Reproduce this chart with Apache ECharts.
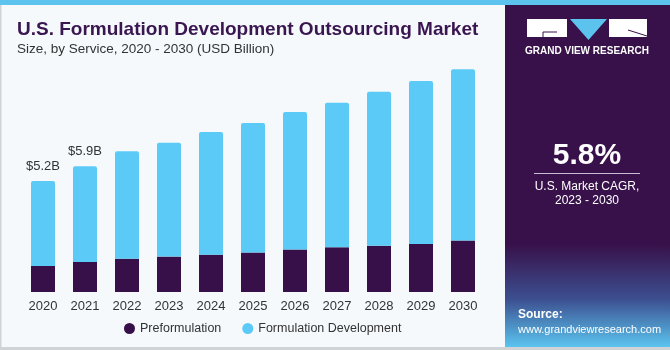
<!DOCTYPE html>
<html>
<head>
<meta charset="utf-8">
<script src="https://cdn.jsdelivr.net/npm/echarts@6/dist/echarts.min.js"></script>
<style>
  html, body { margin: 0; padding: 0; background: #f5f9fc; }
  #chart { width: 670px; height: 350px; }
</style>
</head>
<body>
<div id="chart"></div>
<script>
// data (USD billion)
const years = ['2020', '2021', '2022', '2023', '2024', '2025', '2026', '2027', '2028', '2029', '2030']
const preformulation = [1.22, 1.41, 1.56, 1.66, 1.75, 1.85, 1.99, 2.10, 2.17, 2.25, 2.41]
const formulationDev = [3.98, 4.49, 5.04, 5.34, 5.75, 6.07, 6.45, 6.77, 7.22, 7.64, 8.03]
const totalLabels = ['$5.2B', '$5.9B', '', '', '', '', '', '', '', '', '']

const DARK = '#381049'
const LIGHT = '#5ccaf6'
const FONT = '"Liberation Sans", Arial, sans-serif'

const chart = echarts.init(document.getElementById('chart'))

chart.setOption({
	backgroundColor: '#f5f9fc',
	animation: false,
	textStyle: { fontFamily: FONT },
	grid: { left: 22, top: 36, width: 462, height: 256, containLabel: false },
	legend: {
		top: 317,
		left: 119,
		itemWidth: 11,
		itemHeight: 11,
		itemGap: 21,
		icon: 'circle',
		textStyle: { fontSize: 12.5, color: '#333', fontFamily: FONT },
		data: ['Preformulation', 'Formulation Development']
	},
	xAxis: {
		type: 'category',
		data: years,
		axisLine: { show: false },
		axisTick: { show: false },
		axisLabel: { fontSize: 13, color: '#333', margin: 8 }
	},
	yAxis: {
		type: 'value',
		min: 0,
		max: 12,
		show: false,
		splitLine: { show: false }
	},
	series: [
		{
			name: 'Preformulation',
			type: 'bar',
			stack: 'total',
			barWidth: 24,
			itemStyle: { color: DARK },
			data: preformulation
		},
		{
			name: 'Formulation Development',
			type: 'bar',
			stack: 'total',
			barWidth: 24,
			itemStyle: { color: LIGHT, borderRadius: [2, 2, 0, 0] },
			label: {
				show: true,
				position: 'top',
				distance: 8,
				fontSize: 13,
				color: '#333',
				formatter: p => totalLabels[p.dataIndex]
			},
			data: formulationDev
		}
	],
	graphic: [
		// top stripe and frame
		{ type: 'rect', left: 0, top: 0, shape: { width: 670, height: 5 }, style: { fill: '#5bc3ee' }, silent: true },
		{ type: 'rect', left: 0, top: 347, shape: { width: 670, height: 3 }, style: { fill: '#cfd3d6' }, silent: true },
		{ type: 'rect', left: 0, top: 5, shape: { width: 1.5, height: 342 }, style: { fill: '#cfd3d6' }, silent: true },
		// titles
		{
			type: 'text', left: 17, top: 20,
			style: { text: 'U.S. Formulation Development Outsourcing Market', fill: '#3a1650', font: 'bold 19px ' + FONT }
		},
		{
			type: 'text', left: 17, top: 42,
			style: { text: 'Size, by Service, 2020 - 2030 (USD Billion)', fill: '#333', font: '13.5px ' + FONT }
		},
		// right panel
		{
			type: 'rect', left: 505, top: 5,
			shape: { width: 165, height: 342 },
			style: {
				fill: new echarts.graphic.LinearGradient(0, 0, 0, 1, [
					{ offset: 0, color: '#38114a' },
					{ offset: 0.7, color: '#38114a' },
					{ offset: 0.86, color: '#3c4f90' },
					{ offset: 1, color: '#5bc4ef' }
				])
			},
			silent: true
		},
		// logo
		{ type: 'rect', left: 527, top: 19, shape: { width: 40, height: 18 }, style: { fill: '#fff' } },
		{ type: 'polyline', shape: { points: [[543, 37], [543, 32], [557, 32]] }, style: { stroke: DARK, lineWidth: 1, fill: null } },
		{ type: 'polygon', shape: { points: [[570, 19], [607, 19], [588.5, 40]] }, style: { fill: '#5bc3ee' } },
		{ type: 'rect', left: 609, top: 19, shape: { width: 38, height: 18 }, style: { fill: '#fff' } },
		{ type: 'line', shape: { x1: 628, y1: 30, x2: 647, y2: 36 }, style: { stroke: DARK, lineWidth: 1 } },
		{
			type: 'text', x: 587, y: 51,
			style: { text: 'GRAND VIEW RESEARCH', fill: '#fff', font: 'bold 10px ' + FONT, align: 'center', verticalAlign: 'middle' }
		},
		// CAGR
		{
			type: 'text', x: 587, y: 156,
			style: { text: '5.8%', fill: '#fff', font: 'bold 30px ' + FONT, align: 'center', verticalAlign: 'middle' }
		},
		{ type: 'line', shape: { x1: 534, y1: 173.5, x2: 640, y2: 173.5 }, style: { stroke: '#c9bdd3', lineWidth: 1 } },
		{
			type: 'text', x: 587, y: 187,
			style: { text: 'U.S. Market CAGR,', fill: '#fff', font: '12px ' + FONT, align: 'center', verticalAlign: 'middle' }
		},
		{
			type: 'text', x: 587, y: 201,
			style: { text: '2023 - 2030', fill: '#fff', font: '12px ' + FONT, align: 'center', verticalAlign: 'middle' }
		},
		// source
		{
			type: 'text', left: 518, top: 309,
			style: { text: 'Source:', fill: '#fff', font: 'bold 12px ' + FONT }
		},
		{
			type: 'text', left: 518, top: 324,
			style: { text: 'www.grandviewresearch.com', fill: '#fff', font: '11px ' + FONT }
		}
	]
})
</script>
</body>
</html>
